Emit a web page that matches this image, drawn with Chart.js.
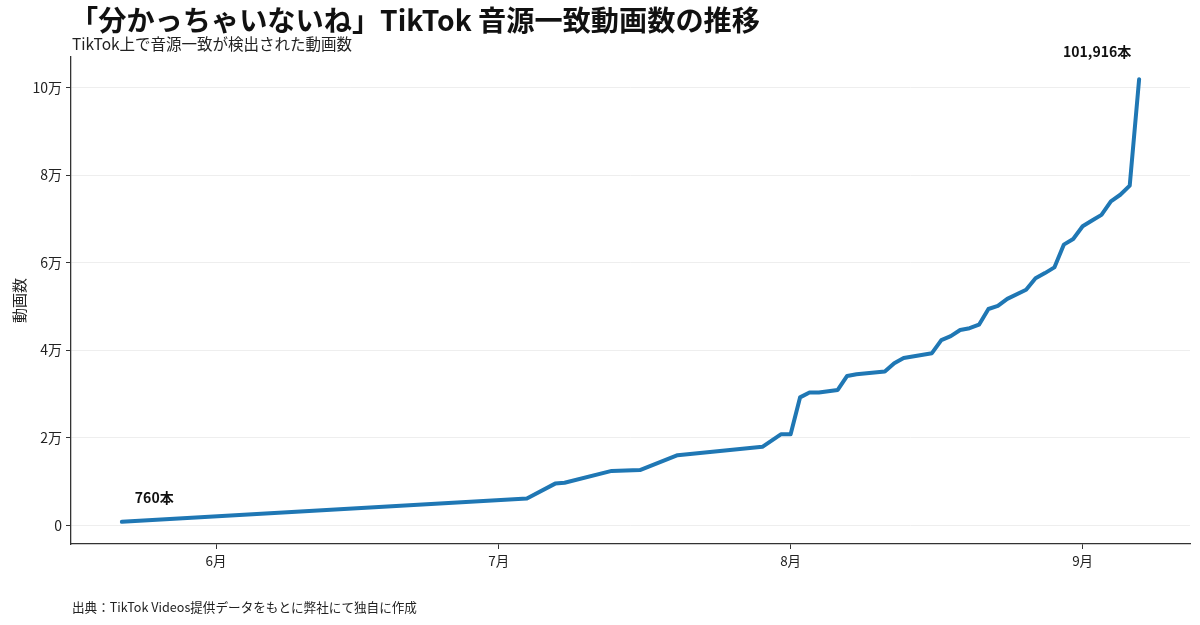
<!DOCTYPE html>
<html lang="ja">
<head>
<meta charset="utf-8">
<script src="https://cdn.jsdelivr.net/npm/chart.js@4"></script>
<style>
  html, body { margin: 0; padding: 0; background: #fff; }
  #wrap { width: 1200px; height: 625px; position: relative; }
</style>
</head>
<body>
<div id="wrap"><canvas id="trendChart"></canvas></div>
<script>
// dates of each observation and the matched video count on that day
const dates = [
  '05-22', '07-04', '07-07', '07-08', '07-13', '07-16', '07-20', '07-29', '07-31',
  '08-01', '08-02', '08-03', '08-04', '08-06', '08-07', '08-08', '08-11', '08-12',
  '08-13', '08-16', '08-17', '08-18', '08-19', '08-20', '08-21', '08-22', '08-23',
  '08-24', '08-26', '08-27', '08-28', '08-29', '08-30', '08-31', '09-01', '09-02',
  '09-03', '09-04', '09-05', '09-06', '09-07'
];
const counts = [
  760, 6100, 9500, 9700, 12400, 12600, 16000, 17900, 20800,
  20800, 29200, 30300, 30300, 30900, 34100, 34500, 35100, 37000,
  38200, 39300, 42300, 43200, 44600, 45000, 45800, 49400, 50100,
  51700, 53800, 56400, 57600, 58900, 64100, 65400, 68300, 69600,
  70900, 74000, 75500, 77600, 101916
];
const monthTicks = ['06-01', '07-01', '08-01', '09-01'];
const monthLabels = ['6月', '7月', '8月', '9月'];
const yTicks = [0, 20000, 40000, 60000, 80000, 100000];

const TITLE = '「分かっちゃいないね」TikTok 音源一致動画数の推移';
const SUBTITLE = 'TikTok上で音源一致が検出された動画数';
const SOURCE = '出典：TikTok Videos提供データをもとに弊社にて独自に作成';
const FONT = '"Noto Sans CJK JP", "Noto Sans", sans-serif';

// days counted from June 1
function dayOf(md) {
  const [m, d] = md.split('-').map(Number);
  return (Date.UTC(2023, m - 1, d) - Date.UTC(2023, 5, 1)) / 86400000;
}

const points = dates.map((d, i) => ({ x: dayOf(d), y: counts[i] }));

// matplotlib-like 5% margins
const xs = points.map(p => p.x);
const xPad = (Math.max(...xs) - Math.min(...xs)) * 0.05;
const yPad = (Math.max(...counts) - Math.min(...counts)) * 0.05;

const textPlugin = {
  id: 'texts',
  afterDraw(chart) {
    const ctx = chart.ctx;
    const xScale = chart.scales.x, yScale = chart.scales.y;
    ctx.save();
    ctx.fillStyle = '#111';
    ctx.textBaseline = 'middle';
    ctx.textAlign = 'left';
    ctx.font = 'bold 28.2px ' + FONT;
    ctx.fillText(TITLE, 70, 20);
    ctx.fillStyle = '#222';
    ctx.font = '15.5px ' + FONT;
    ctx.fillText(SUBTITLE, 72, 44);
    ctx.font = '12.6px ' + FONT;
    ctx.fillText(SOURCE, 72, 607);

    // first / last value labels
    const first = points[0], last = points[points.length - 1];
    ctx.fillStyle = '#111';
    ctx.font = 'bold 14px ' + FONT;
    ctx.textAlign = 'left';
    ctx.fillText(first.y.toLocaleString('en-US') + '本',
      xScale.getPixelForValue(first.x) + 13, yScale.getPixelForValue(first.y) - 24);
    ctx.textAlign = 'center';
    ctx.fillText(last.y.toLocaleString('en-US') + '本',
      xScale.getPixelForValue(last.x) - 42, yScale.getPixelForValue(last.y) - 27);
    ctx.restore();
  }
};

new Chart(document.getElementById('trendChart'), {
  type: 'line',
  data: {
    datasets: [{
      data: points,
      borderColor: '#1f77b4',
      borderWidth: 4,
      borderJoinStyle: 'round',
      borderCapStyle: 'round',
      pointRadius: 0,
      tension: 0,
      fill: false
    }]
  },
  options: {
    responsive: true,
    maintainAspectRatio: false,
    animation: false,
    layout: { padding: { top: 57, right: 10, bottom: 0, left: 0 } },
    plugins: {
      legend: { display: false },
      tooltip: { enabled: false }
    },
    scales: {
      x: {
        type: 'linear',
        min: Math.min(...xs) - xPad,
        max: Math.max(...xs) + xPad,
        afterBuildTicks: scale => { scale.ticks = monthTicks.map(m => ({ value: dayOf(m) })); },
        afterFit: scale => { scale.height = 81; },
        ticks: {
          color: '#222',
          font: { family: FONT, size: 13.5 },
          padding: 4,
          maxRotation: 0,
          callback: (v) => monthLabels[monthTicks.map(dayOf).indexOf(v)]
        },
        grid: { drawOnChartArea: false, tickLength: 5, tickColor: '#333' },
        border: { color: '#333', width: 1.3 }
      },
      y: {
        min: Math.min(...counts) - yPad,
        max: Math.max(...counts) + yPad,
        afterBuildTicks: scale => { scale.ticks = yTicks.map(v => ({ value: v })); },
        afterFit: scale => { scale.width = 71; },
        ticks: {
          color: '#222',
          font: { family: FONT, size: 14 },
          padding: 4,
          callback: v => v === 0 ? '0' : (v / 10000) + '万'
        },
        grid: { color: '#eeeeee', lineWidth: 1, tickLength: 5, tickColor: '#333' },
        border: { color: '#333', width: 1.3 },
        title: {
          display: true,
          text: '動画数',
          color: '#222',
          font: { family: FONT, size: 15 },
          padding: { top: 10, bottom: 0 }
        }
      }
    }
  },
  plugins: [textPlugin]
});
</script>
</body>
</html>
